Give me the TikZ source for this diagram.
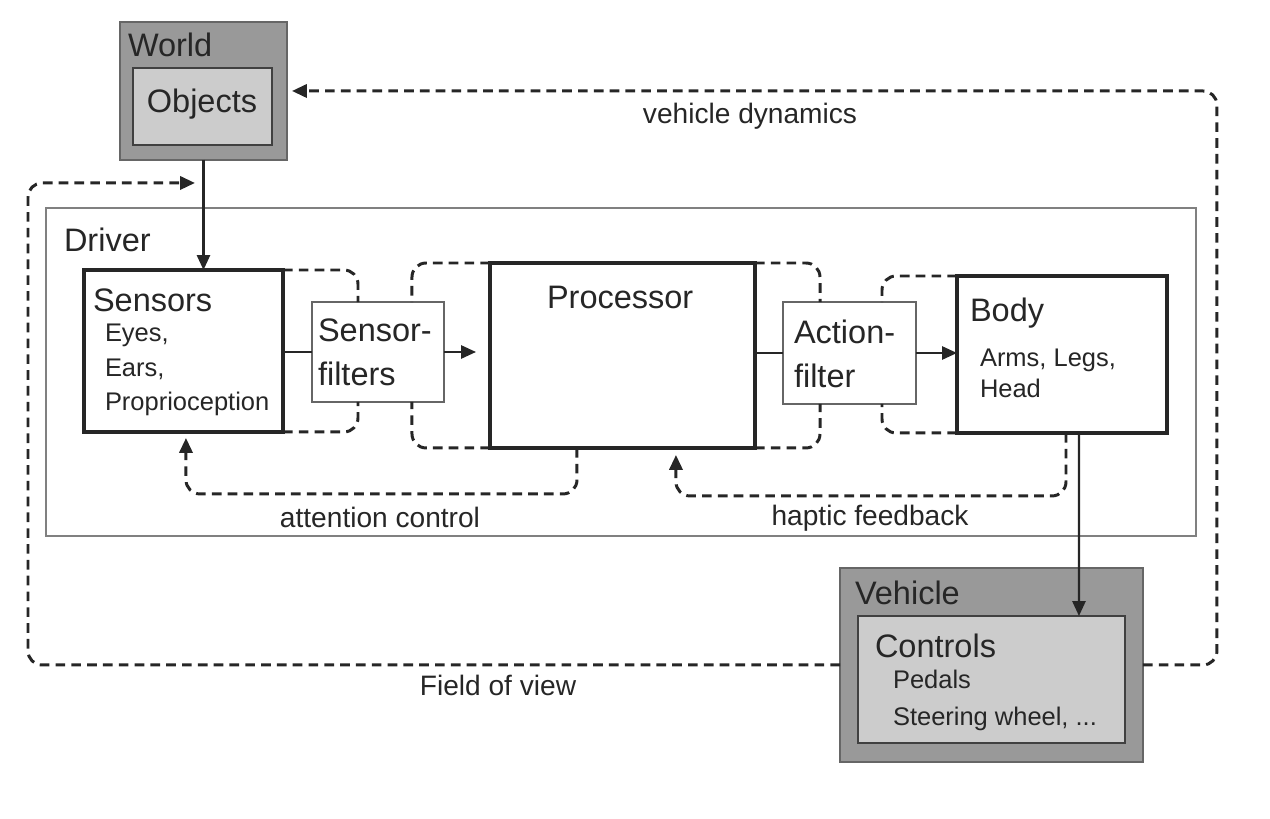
\documentclass[tikz,border=0pt]{standalone}
\usepackage{fontspec}
\setmainfont{Liberation Sans}
\usetikzlibrary{arrows.meta}
\usetikzlibrary{calc}
\tikzstyle{every node}=[inner sep=0pt, outer sep=0pt, text=black!85]

\begin{document}
\begin{tikzpicture}[x=0.02cm, y=-0.02cm,
    boxouter/.style={%
        draw=black!60, line width=1pt, fill=black!40,
        anchor=north west},
    boxinner/.style={%
        draw=black!75, line width=1pt, fill=black!20,
        anchor=north west},
    driverbox/.style={%
        draw=black!50, line width=1pt,
        anchor=north west},
    blockbox/.style={%
        draw=black!85, line width=2.2pt, fill=white,
        anchor=north west},
    filterbox/.style={%
        draw=black!60, line width=1pt, fill=white,
        anchor=north west},
    headtext/.style={font=\fontsize{18.5}{25}\selectfont, align=left, anchor=west},
    itemtext/.style={font=\fontsize{14.5}{19.5}\selectfont, align=left, anchor=west},
    captext/.style={font=\fontsize{16}{19}\selectfont},
    plainline/.style={line width=1.2pt, draw=black!85},
    flowline/.style={plainline, -{Triangle[length=8.5pt,width=7.5pt]}},
    dashloop/.style={line width=1.7pt, draw=black!85,
        dash pattern=on 5.5pt off 3.5pt, rounded corners=8pt},
    dashflow/.style={dashloop, -{Triangle[length=8.5pt,width=7.5pt]}},
]
    \useasboundingbox (0,0) rectangle (1270,818);

    % Driver
    \node[driverbox, minimum width=23cm, minimum height=6.56cm] (driver) at (46,208) {};
    \node[headtext] (driverlbl) at (64,240) {Driver};

    % World
    \node[boxouter, minimum width=3.34cm, minimum height=2.76cm] (world) at (120,22) {};
    \node[boxinner, minimum width=2.78cm, minimum height=1.54cm] (objects) at (133,68) {};
    \node[headtext] (worldlbl) at (128,45) {World};
    \node[headtext, anchor=center] (objectslbl) at (202,104) {Objects};

    % Sensors and filter
    \node[blockbox, minimum width=3.98cm, minimum height=3.24cm] (sensors) at (84,270) {};
    \node[headtext] (sensorslbl) at (93,300) {Sensors};
    \node[itemtext] (sensorsitems) at (105,370) {Eyes,\\Ears,\\Proprioception};
    \node[filterbox, minimum width=2.64cm, minimum height=2cm] (sfilter) at (312,302) {};
    \node[headtext] (sfilterlbl) at (318,352) {Sensor-\\filters};

    % Processor
    \node[blockbox, minimum width=5.3cm, minimum height=3.7cm] (proc) at (490,263) {};
    \node[headtext] (proclbl) at (547,297) {Processor};

    % Action filter and body
    \node[filterbox, minimum width=2.66cm, minimum height=2.04cm] (afilter) at (783,302) {};
    \node[headtext] (afilterlbl) at (794,354) {Action-\\filter};
    \node[blockbox, minimum width=4.2cm, minimum height=3.14cm] (body) at (957,276) {};
    \node[headtext] (bodylbl) at (970,313) {Body};
    \node[itemtext, font=\fontsize{14.5}{17.6}\selectfont] (bodyitems) at (980,373) {Arms, Legs,\\Head};

    % Vehicle
    \node[boxouter, minimum width=6.06cm, minimum height=3.88cm] (vehicle) at (840,568) {};
    \node[boxinner, minimum width=5.34cm, minimum height=2.54cm] (controls) at (858,616) {};
    \node[headtext] (vehiclelbl) at (855,593) {Vehicle};
    \node[headtext] (controlslbl) at (875,646) {Controls};
    \node[itemtext, font=\fontsize{14.5}{21}\selectfont] (controlsitems) at (893,700) {Pedals\\Steering wheel, ...};

    % Outer loops
    \draw[dashflow] (vehicle.east) -- ++(74,0) |- ([xshift=0.1cm]world.east);
    \node[captext] (dynlbl) at (750,116) {vehicle dynamics};
    \draw[dashflow] (vehicle.west) -- ++(-812,0) |- ([xshift=-0.17cm,yshift=-0.46cm]world.south);
    \node[captext] (fovlbl) at (498,685) {Field of view};

    % Signal path
    \draw[flowline] (world.south) -- (world.south |- sensors.north);
    \draw[plainline] (sensors.east |- sfilter.west) -- (sfilter.west);
    \draw[flowline] (sfilter.east) -- ($(sfilter.east -| proc.west)+(-14,0)$);
    \draw[plainline] (proc.east |- afilter.west) -- (afilter.west);
    \draw[flowline] (afilter.east) -- (afilter.east -| body.west);
    \draw[flowline] ([xshift=-1.76cm]body.south east) -- ([xshift=-0.92cm]controls.north east);

    % Filter bypasses
    \draw[dashloop] (sensors.north east) -| ([xshift=0.92cm]sfilter.north west);
    \draw[dashloop] (sensors.south east) -| ([xshift=0.92cm]sfilter.south west);
    \draw[dashloop] (proc.north west) -| ([xshift=-0.64cm]sfilter.north east);
    \draw[dashloop] (proc.south west) -| ([xshift=-0.64cm]sfilter.south east);
    \draw[dashloop] (proc.north east) -| ([xshift=0.74cm]afilter.north west);
    \draw[dashloop] (proc.south east) -| ([xshift=0.74cm]afilter.south west);
    \draw[dashloop] (body.north west) -| ([xshift=-0.68cm]afilter.north east);
    \draw[dashloop] (body.south west) -| ([xshift=-0.68cm]afilter.south east);

    % Feedback
    \draw[dashflow] ([xshift=1.74cm]proc.south west) -- ++(0,46) -| ([xshift=2.04cm,yshift=-0.12cm]sensors.south west);
    \node[captext] (attlbl) at (380,517) {attention control};
    \draw[dashflow] ([xshift=-2.02cm]body.south east) -- ++(0,63) -| ([xshift=3.72cm,yshift=-0.14cm]proc.south west);
    \node[captext] (haplbl) at (870,518) {haptic feedback};
\end{tikzpicture}
\end{document}
